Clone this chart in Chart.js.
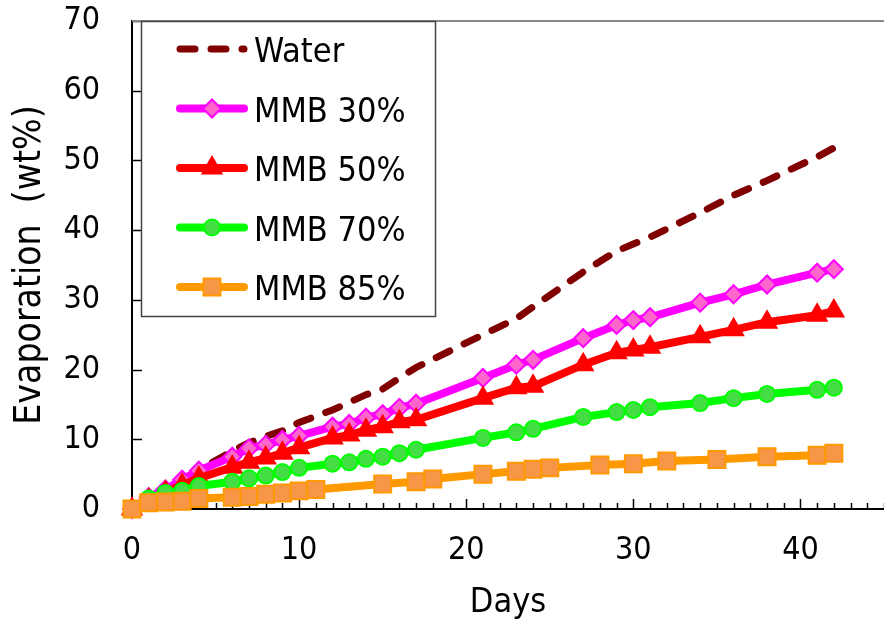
<!DOCTYPE html>
<html>
<head>
<meta charset="utf-8">
<script src="https://cdn.jsdelivr.net/npm/chart.js@4/dist/chart.umd.min.js"></script>
<style>
  html, body { margin: 0; padding: 0; background: #fff; }
  #wrap { width: 884px; height: 624px; }
</style>
</head>
<body>
<div id="wrap"><canvas id="evapChart" width="884" height="624"></canvas></div>
<script>
// days at which MMB 30/50/70 % and water were weighed
const days = [0, 1, 2, 3, 4, 6, 7, 8, 9, 10, 12, 13, 14, 15, 16, 17, 21, 23, 24, 27, 29, 30, 31, 34, 36, 38, 41, 42];
// MMB 85% was weighed on a slightly different schedule
const days85 = [0, 1, 2, 3, 4, 6, 7, 8, 9, 10, 11, 15, 17, 18, 21, 23, 24, 25, 28, 30, 32, 35, 38, 41, 42];

const water = [0, 1.3, 2.8, 4.2, 5.6, 8.3, 9.5, 10.4, 11.2, 12.4, 14.2, 15.3, 16.4, 17.2, 18.8, 20.3, 25.0, 27.3, 29.0, 34.0, 37.0, 38.0, 39.0, 42.5, 45.0, 47.1, 50.5, 51.8];
const mmb30 = [0, 1.7, 2.8, 4.2, 5.5, 7.5, 8.7, 9.2, 9.9, 10.5, 11.8, 12.2, 13.1, 13.6, 14.5, 15.1, 18.8, 20.7, 21.4, 24.5, 26.4, 27.1, 27.5, 29.6, 30.8, 32.2, 33.9, 34.4];
const mmb50 = [0, 1.3, 2.4, 3.4, 4.4, 6.0, 6.7, 7.3, 8.0, 8.8, 10.2, 10.6, 11.3, 11.8, 12.5, 12.8, 15.9, 17.4, 17.6, 20.7, 22.4, 22.8, 23.2, 24.7, 25.7, 26.8, 27.8, 28.4];
const mmb70 = [0, 1.5, 2.3, 2.6, 3.3, 3.9, 4.4, 4.8, 5.3, 5.9, 6.5, 6.7, 7.2, 7.5, 8.0, 8.5, 10.2, 11.0, 11.5, 13.2, 13.9, 14.2, 14.6, 15.2, 15.9, 16.5, 17.1, 17.4];
const mmb85 = [0, 0.9, 1.0, 1.1, 1.5, 1.7, 1.8, 2.1, 2.3, 2.6, 2.8, 3.6, 3.9, 4.3, 5.0, 5.4, 5.7, 5.9, 6.3, 6.5, 6.9, 7.1, 7.5, 7.7, 8.0];

const xTicks = [0, 10, 20, 30, 40];
const yTicks = [0, 10, 20, 30, 40, 50, 60, 70];

const FONT = '"DejaVu Sans Condensed", "DejaVu Sans", sans-serif';

function pts(xs, ys) {
  return xs.map((d, i) => ({ x: d, y: ys[i] }));
}

// inward tick marks and the grey top frame line
const axisDecor = {
  id: 'axisDecor',
  beforeDatasetsDraw(chart) {
    const { ctx, chartArea: a, scales: { x, y } } = chart;
    ctx.save();
    ctx.strokeStyle = '#000';
    ctx.lineWidth = 1.5;
    ctx.beginPath();
    for (let d = 1; d <= x.max; d++) {
      const px = Math.round(x.getPixelForValue(d)) + 0.5;
      const len = d % 10 === 0 ? 10 : 6;
      ctx.moveTo(px, a.bottom);
      ctx.lineTo(px, a.bottom - len);
    }
    yTicks.forEach(v => {
      if (v === 0) return;
      const py = Math.round(y.getPixelForValue(v)) + 0.5;
      ctx.moveTo(a.left, py);
      ctx.lineTo(a.left + 10, py);
    });
    ctx.stroke();
    ctx.strokeStyle = '#888';
    ctx.lineWidth = 2;
    ctx.beginPath();
    ctx.moveTo(a.left, a.top);
    ctx.lineTo(a.right, a.top);
    ctx.stroke();
    ctx.restore();
  }
};

// boxed legend sitting inside the plot, top-left
const boxLegend = {
  id: 'boxLegend',
  afterDraw(chart) {
    const { ctx, chartArea: a } = chart;
    const left = a.left + 9, top = a.top, w = 294, h = 295;
    ctx.save();
    ctx.fillStyle = '#fff';
    ctx.fillRect(left, top, w, h);
    ctx.strokeStyle = '#444';
    ctx.lineWidth = 1.5;
    ctx.strokeRect(left + 0.5, top + 0.5, w, h);
    ctx.font = '34px ' + FONT;
    ctx.textBaseline = 'alphabetic';
    chart.data.datasets.forEach((ds, i) => {
      const cy = top + 28 + i * 59.5;
      const x0 = left + 39, x1 = left + 103;
      ctx.strokeStyle = ds.borderColor;
      ctx.lineWidth = ds.borderWidth;
      ctx.lineCap = 'round';
      ctx.setLineDash(ds.borderDash || []);
      ctx.beginPath();
      ctx.moveTo(x0, cy);
      ctx.lineTo(x1, cy);
      ctx.stroke();
      ctx.setLineDash([]);
      if (ds.pointRadius) {
        ctx.fillStyle = ds.pointBackgroundColor;
        ctx.strokeStyle = ds.pointBorderColor;
        ctx.lineWidth = ds.pointBorderWidth;
        Chart.helpers.drawPoint(ctx, {
          pointStyle: ds.pointStyle, radius: ds.pointRadius,
          rotation: 0, borderWidth: ds.pointBorderWidth
        }, (x0 + x1) / 2, cy);
      }
      ctx.fillStyle = '#000';
      ctx.fillText(ds.label, left + 113, cy + 13);
    });
    ctx.restore();
  }
};

Chart.defaults.font.family = FONT;
Chart.defaults.color = '#000';

const chart = new Chart(document.getElementById('evapChart'), {
  type: 'line',
  data: {
    datasets: [
      {
        label: 'Water',
        data: pts(days, water),
        borderColor: '#800000',
        borderWidth: 7,
        borderDash: [15, 16],
        borderCapStyle: 'round',
        pointRadius: 0,
        order: 4
      },
      {
        label: 'MMB 30%',
        data: pts(days, mmb30),
        borderColor: '#ff00ff',
        borderWidth: 8,
        pointStyle: 'rectRot',
        pointRadius: 9,
        pointBackgroundColor: '#ff66cc',
        pointBorderColor: '#ff00ff',
        pointBorderWidth: 2,
        order: 3
      },
      {
        label: 'MMB 50%',
        data: pts(days, mmb50),
        borderColor: '#ff0000',
        borderWidth: 8,
        pointStyle: 'triangle',
        pointRadius: 11,
        pointBackgroundColor: '#ff0000',
        pointBorderColor: '#ff0000',
        pointBorderWidth: 2,
        order: 2
      },
      {
        label: 'MMB 70%',
        data: pts(days, mmb70),
        borderColor: '#00ff00',
        borderWidth: 8,
        pointStyle: 'circle',
        pointRadius: 8,
        pointBackgroundColor: '#44dd44',
        pointBorderColor: '#00ff00',
        pointBorderWidth: 2,
        order: 1
      },
      {
        label: 'MMB 85%',
        data: pts(days85, mmb85),
        borderColor: '#ff9900',
        borderWidth: 8,
        pointStyle: 'rect',
        pointRadius: 12,
        pointBackgroundColor: '#f79646',
        pointBorderColor: '#ff9900',
        pointBorderWidth: 2,
        order: 0
      }
    ]
  },
  options: {
    responsive: false,
    animation: false,
    events: [],
    layout: { autoPadding: false, padding: { top: 21, left: 0, right: 0, bottom: 0 } },
    elements: { line: { tension: 0 } },
    datasets: { line: { clip: false } },
    plugins: {
      legend: { display: false },
      tooltip: { enabled: false },
      title: { display: false }
    },
    scales: {
      x: {
        type: 'linear',
        min: 0,
        max: 45,
        afterFit: s => { s.height = 115; s.paddingLeft = 0; s.paddingRight = 0; },
        afterBuildTicks: s => { s.ticks = xTicks.map(v => ({ value: v })); },
        ticks: { font: { size: 32 }, padding: 22, includeBounds: false },
        grid: { drawOnChartArea: false, drawTicks: false },
        border: { color: '#000', width: 2 },
        title: { display: true, text: 'Days', font: { size: 34 }, padding: { top: 0, bottom: 0 } }
      },
      y: {
        min: 0,
        max: 70,
        afterFit: s => { s.width = 132; s.paddingTop = 0; s.paddingBottom = 0; },
        afterBuildTicks: s => { s.ticks = yTicks.map(v => ({ value: v })); },
        ticks: { font: { size: 32 }, padding: 32 },
        grid: { drawOnChartArea: false, drawTicks: false },
        border: { color: '#000', width: 2 },
        title: { display: true, text: 'Evaporation  (wt%)', font: { size: 37 }, padding: { top: 8, bottom: 0 } }
      }
    }
  },
  plugins: [axisDecor, boxLegend]
});
</script>
</body>
</html>
